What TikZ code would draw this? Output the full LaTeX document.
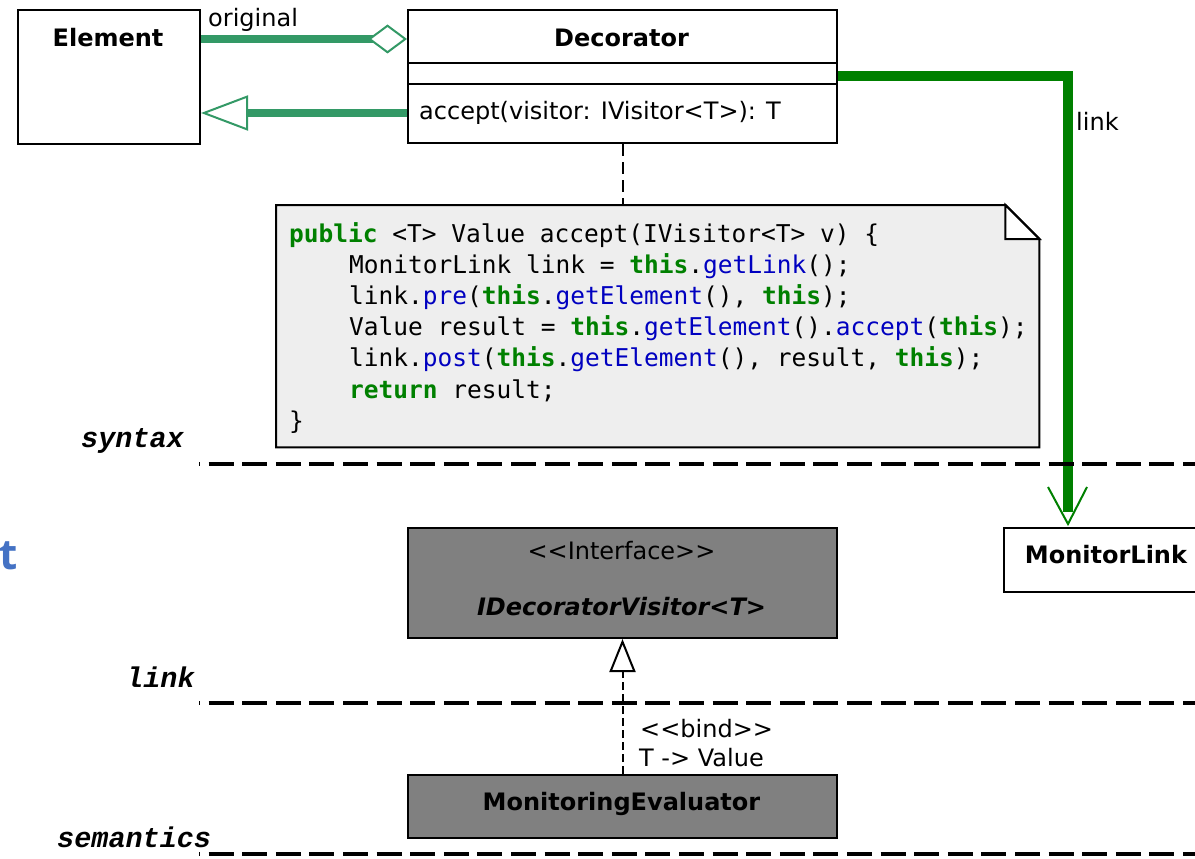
\documentclass[tikz,border=0pt]{standalone}
\usepackage{fontspec}
\setmainfont{DejaVu Sans}
\setmonofont{DejaVu Sans Mono}
\newfontfamily\layerfont{Liberation Mono}
\newfontfamily\markfont{Open Sans}
\usetikzlibrary{arrows.meta,calc}
\definecolor{assocgreen}{HTML}{339966}
\definecolor{linkgreen}{HTML}{008000}
\definecolor{kwgreen}{HTML}{008000}
\definecolor{methblue}{HTML}{0000C0}
\definecolor{notefill}{HTML}{EEEEEE}
\definecolor{ifacefill}{HTML}{808080}
\definecolor{markblue}{HTML}{4472C4}
\newcommand\kw[1]{\textcolor{kwgreen}{\bfseries #1}}
\newcommand\mth[1]{\textcolor{methblue}{#1}}
\begin{document}
\begin{tikzpicture}[x=1pt,y=-1pt,
  box/.style={draw=black,line width=2pt,fill=white,inner sep=0pt,anchor=north west},
  greybox/.style={box,fill=ifacefill},
  title/.style={font=\fontsize{24}{28}\selectfont\bfseries,anchor=base,inner sep=0pt},
  txt/.style={font=\fontsize{24}{28}\selectfont,inner sep=0pt},
  code/.style={font=\ttfamily\fontsize{24.5}{30}\selectfont,anchor=base west,inner sep=0pt},
  layerlbl/.style={font=\layerfont\bfseries\itshape\fontsize{28.5}{32}\selectfont,anchor=base west,inner sep=0pt},
  separator/.style={line width=4pt,dash pattern=on 25pt off 8.6pt,dash phase=24pt},
  assoc/.style={assocgreen,line width=7.5pt},
  linkline/.style={linkgreen,line width=10pt},
  notedash/.style={line width=2pt,dash pattern=on 12pt off 6pt},
  realize/.style={line width=2pt,dash pattern=on 8pt off 4pt}]
\useasboundingbox (0,0) rectangle (1195,859);

% classes of the syntax layer
\node[box,minimum width=182pt,minimum height=134pt] (elem) at (17,9) {};
\node[title] (elemT) at (108,47) {Element};
\node[box,minimum width=429pt,minimum height=133pt] (dec) at (407,9) {};
\node[title] (decT) at (621.5,47) {Decorator};
\draw[line width=2pt] ($(dec.north west)+(0,54)$) -- ($(dec.north east)+(0,54)$);
\draw[line width=2pt] ($(dec.north west)+(0,75)$) -- ($(dec.north east)+(0,75)$);
\node[txt,anchor=base west] (decOp) at (419,120) {accept(visitor: IVisitor<T>): T};

% aggregation and generalization between Decorator and Element
\draw[assoc,{Diamond[open,fill=white,length=39pt,width=29pt,line width=2pt]}-]
  ($(dec.north west)+(0,30)$) -- ($(elem.north east)+(0,30)$);
\node[txt,anchor=base west] (origL) at (208,27) {original};
\draw[assoc,-{Triangle[open,fill=white,length=47pt,width=35pt,line width=2pt]}]
  ($(dec.north west)+(0,104)$) -- ($(elem.north east)+(0,104)$);

% code note attached to Decorator
\node[inner sep=0pt,minimum width=763pt,minimum height=242pt,anchor=north west] (note) at (276,205) {};
\draw[line width=2pt,fill=notefill] (note.north west) -- ($(note.north east)+(-34,0)$)
  -- ($(note.north east)+(0,34)$) -- (note.south east) -- (note.south west) -- cycle;
\filldraw[line width=2pt,fill=white] ($(note.north east)+(-34,0)$) -- ($(note.north east)+(-34,34)$)
  -- ($(note.north east)+(0,34)$) -- cycle;
\draw[notedash] (dec.south) -- (note.north -| dec.south);
\node[code] (c1) at (289,242) {\kw{public} <T> Value accept(IVisitor<T> v) \{};
\node[code] (c2) at (349,273.2) {MonitorLink link = \kw{this}.\mth{getLink}();};
\node[code] (c3) at (349,304.4) {link.\mth{pre}(\kw{this}.\mth{getElement}(), \kw{this});};
\node[code] (c4) at (349,335.6) {Value result = \kw{this}.\mth{getElement}().\mth{accept}(\kw{this});};
\node[code] (c5) at (349,366.8) {link.\mth{post}(\kw{this}.\mth{getElement}(), result, \kw{this});};
\node[code] (c6) at (349,398) {\kw{return} result;};
\node[code] (c7) at (289,429.2) {\}};

% semantic classes
\node[greybox,minimum width=429pt,minimum height=110pt] (ivis) at (407,527) {};
\node[txt,anchor=base] (ivisS) at (621.5,559) {<{}<Interface>{}>};
\node[title,font=\fontsize{24}{28}\selectfont\bfseries\itshape] (ivisT) at (621.5,615) {IDecoratorVisitor<T>};
\node[box,minimum width=206pt,minimum height=64pt] (ml) at (1003,527) {};
\node[title] (mlT) at (1106,563) {MonitorLink};
\node[greybox,minimum width=429pt,minimum height=63pt] (meval) at (407,774) {};
\node[title] (mevalT) at (621.5,810) {MonitoringEvaluator};

% link association to MonitorLink
\draw[linkline] ($(dec.north east)+(0,67)$) -| ($(ml.north west)+(65,-15)$);
\draw[linkgreen,line width=2pt] ($(ml.north west)+(45,-40)$) -- ($(ml.north west)+(65,-3)$)
  -- ($(ml.north west)+(84,-40)$);
\node[txt,anchor=base west] (linkL) at (1076,130) {link};

% template binding
\draw[realize,-{Triangle[open,fill=white,length=33pt,width=26pt,line width=2pt]}] (meval.north) -- (ivis.south);
\node[txt,anchor=base west] (bindS) at (640,737) {<{}<bind>{}>};
\node[txt,anchor=base west] (bindT) at (639,766) {T -> Value};

% layer separators
\coordinate (synA) at (199,464); \coordinate (synB) at (1195,464);
\coordinate (lnkA) at (199,703); \coordinate (lnkB) at (1195,703);
\coordinate (semA) at (199,854); \coordinate (semB) at (1195,854);
\draw[separator] (synA) -- (synB);
\draw[separator] (lnkA) -- (lnkB);
\draw[separator] (semA) -- (semB);
\node[layerlbl] (synT) at (81,447) {syntax};
\node[layerlbl] (lnkT) at (126,687) {link};
\node[layerlbl] (semT) at (57,847) {semantics};

\node[font=\markfont\bfseries\fontsize{42}{44}\selectfont,text=markblue,anchor=base east,inner sep=0pt] (mark) at (18,569) {t};
\end{tikzpicture}
\end{document}
